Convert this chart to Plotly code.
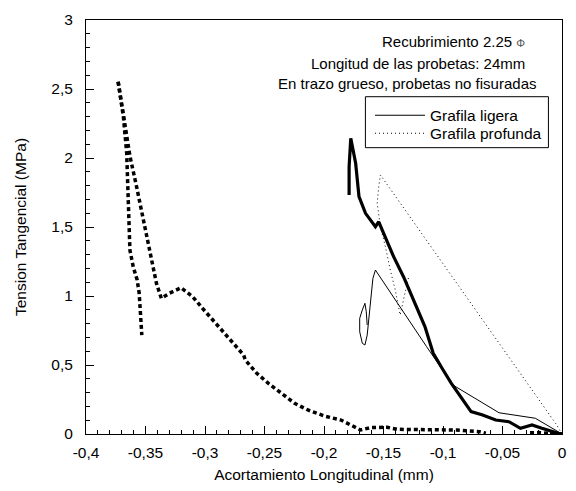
import plotly.graph_objects as go

# ---------------- data ----------------
# Thin solid: Grafila ligera (cracked specimen)
ligera_x = [0.0, -0.0224, -0.0529, -0.0917, -0.1138, -0.1568, -0.1589, -0.1609, -0.1622,
            -0.1637, -0.1656, -0.1678, -0.1700, -0.1700, -0.1678, -0.1656, -0.1645, -0.1637]
ligera_y = [0.0, 0.114, 0.154, 0.355, 0.633, 1.188, 1.128, 0.959, 0.814,
            0.717, 0.645, 0.657, 0.741, 0.838, 0.899, 0.947, 0.886, 0.790]

# Thin dotted: Grafila profunda (cracked specimen)
profunda_x = [0.0, -0.0044, -0.1526, -0.1540, -0.1553, -0.1526, -0.1484, -0.1443,
              -0.1401, -0.1373, -0.1360, -0.1332, -0.1304, -0.1285]
profunda_y = [0.0, 0.065, 1.877, 1.792, 1.672, 1.502, 1.357, 1.188,
              1.043, 0.922, 0.862, 0.971, 1.092, 1.152]

# Thick solid: Grafila ligera, non-cracked specimen
ligera_nf_x = [0.0, -0.0031, -0.0169, -0.0252, -0.0349, -0.0446, -0.0557, -0.0667, -0.0764,
               -0.0833, -0.0930, -0.0999, -0.1082, -0.1152, -0.1221, -0.1290, -0.1332,
               -0.1415, -0.1498, -0.1540, -0.1568, -0.1651, -0.1706, -0.1734, -0.1775,
               -0.1789, -0.1789]
ligera_nf_y = [0.0, 0.005, 0.041, 0.065, 0.041, 0.089, 0.101, 0.138, 0.162,
               0.246, 0.367, 0.464, 0.585, 0.778, 0.922, 1.067, 1.140,
               1.285, 1.454, 1.538, 1.502, 1.599, 1.720, 1.962, 2.143,
               1.937, 1.732]

# Thick dotted: Grafila profunda, non-cracked specimen (long curve)
profunda_nf_x = [-0.373, -0.367, -0.363, -0.3575, -0.3533, -0.3492, -0.345, -0.3408,
                 -0.3367, -0.3298, -0.3201, -0.3104, -0.3021, -0.2883, -0.279, -0.2675,
                 -0.2661, -0.2565, -0.2467, -0.2357, -0.2246, -0.2135, -0.1996, -0.1858,
                 -0.1747, -0.1692, -0.1609, -0.147, -0.1387, -0.1111, -0.0889, -0.0695,
                 -0.064]
profunda_nf_y = [2.553, 2.227, 2.01, 1.792, 1.623, 1.454, 1.261, 1.092,
                 0.983, 1.02, 1.06, 0.995, 0.911, 0.778, 0.681, 0.572,
                 0.536, 0.44, 0.367, 0.295, 0.222, 0.174, 0.130, 0.101,
                 0.053, 0.029, 0.046, 0.049, 0.034, 0.029, 0.029, 0.017,
                 0.005]

# Thick dotted: second non-cracked specimen (steep branch)
profunda_nf2_x = [-0.373, -0.3686, -0.3658, -0.3644, -0.3639, -0.3631, -0.3603,
                  -0.357, -0.3553, -0.3542, -0.3531]
profunda_nf2_y = [2.553, 2.30, 2.034, 1.744, 1.502, 1.333, 1.212,
                  1.116, 1.02, 0.875, 0.717]

# Thick dotted: short start segment near the origin
profunda_nf3_x = [0.0, -0.010, -0.020, -0.028]
profunda_nf3_y = [0.0, 0.008, 0.010, 0.008]

x_tickvals = [-0.4, -0.35, -0.3, -0.25, -0.2, -0.15, -0.1, -0.05, 0]
x_ticktext = ["-0,4", "-0,35", "-0,3", "-0,25", "-0,2", "-0,15", "-0,1", "-0,05", "0"]
y_tickvals = [0, 0.5, 1, 1.5, 2, 2.5, 3]
y_ticktext = ["0", "0,5", "1", "1,5", "2", "2,5", "3"]

# ---------------- figure ----------------
FONT = "Liberation Sans, Arial, sans-serif"
FS = 15.5
fig = go.Figure()

fig.add_trace(go.Scatter(x=ligera_x, y=ligera_y, mode="lines", name="Grafila ligera",
                         line=dict(color="black", width=1), legend="legend"))
fig.add_trace(go.Scatter(x=profunda_x, y=profunda_y, mode="lines", name="Grafila profunda",
                         line=dict(color="black", width=1, dash="1px,3px"), legend="legend2"))
fig.add_trace(go.Scatter(x=ligera_nf_x, y=ligera_nf_y, mode="lines", showlegend=False,
                         line=dict(color="black", width=3.2)))
for xs, ys in [(profunda_nf_x, profunda_nf_y), (profunda_nf2_x, profunda_nf2_y),
               (profunda_nf3_x, profunda_nf3_y)]:
    fig.add_trace(go.Scatter(x=xs, y=ys, mode="lines", showlegend=False,
                             line=dict(color="black", width=3.5, dash="4px,3px")))

axis_common = dict(showline=True, linecolor="black", linewidth=1, mirror=True,
                   showgrid=False, zeroline=False, ticks="inside", tickcolor="black",
                   tickwidth=1, ticklen=8, layer="above traces",
                   tickfont=dict(family=FONT, size=FS, color="black"))

fig.update_xaxes(range=[-0.4, 0], tickmode="array", tickvals=x_tickvals, ticktext=x_ticktext,
                 minor=dict(tickmode="linear", tick0=0, dtick=0.01, ticks="inside",
                            ticklen=4, tickcolor="black", tickwidth=1),
                 ticklabelstandoff=4,
                 title=dict(text="Acortamiento Longitudinal (mm)",
                            font=dict(family=FONT, size=FS, color="black"), standoff=9),
                 **axis_common)
fig.update_yaxes(range=[0, 3], tickmode="array", tickvals=y_tickvals, ticktext=y_ticktext,
                 minor=dict(tickmode="linear", tick0=0, dtick=0.1, ticks="inside",
                            ticklen=4, tickcolor="black", tickwidth=1),
                 ticklabelstandoff=9,
                 title=dict(text="Tension Tangencial (MPa)",
                            font=dict(family=FONT, size=FS, color="black"), standoff=20),
                 **axis_common)

# legend frame
fig.add_shape(type="rect", xref="paper", yref="paper", x0=0.587, x1=0.9715, y0=0.6916, y1=0.8147,
              line=dict(color="black", width=1), fillcolor="rgba(0,0,0,0)", layer="above")

AFS = 15
fig.add_annotation(xref="paper", yref="paper", x=0.926, y=0.947, xanchor="right", yanchor="middle",
                   text="Recubrimiento 2.25 <span style='font-size:11px;color:#555'>Φ</span>",
                   showarrow=False, font=dict(family=FONT, size=AFS, color="black"))
fig.add_annotation(xref="paper", yref="paper", x=0.927, y=0.895, xanchor="right", yanchor="middle",
                   text="Longitud de las probetas: 24mm",
                   showarrow=False, font=dict(family=FONT, size=AFS, color="black"))
fig.add_annotation(xref="paper", yref="paper", x=0.951, y=0.847, xanchor="right", yanchor="middle",
                   text="En trazo grueso, probetas no fisuradas",
                   showarrow=False, font=dict(family=FONT, size=AFS, color="black"))

leg_common = dict(xanchor="left", yanchor="top", bgcolor="rgba(0,0,0,0)", borderwidth=0,
                  font=dict(family=FONT, size=FS, color="black"), itemwidth=50)
fig.update_layout(
    width=576, height=491,
    margin=dict(l=86, r=9, t=20, b=57),
    paper_bgcolor="white", plot_bgcolor="white",
    font=dict(family=FONT, size=FS, color="black"),
    legend=dict(x=0.5967, y=0.81, **leg_common),
    legend2=dict(x=0.5967, y=0.7665, **leg_common),
    showlegend=True,
)

fig.write_html("out.html")
